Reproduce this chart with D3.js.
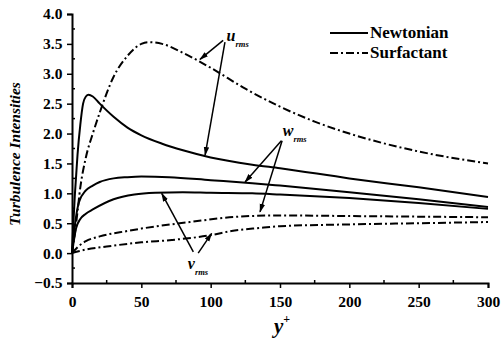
<!DOCTYPE html>
<html>
<head>
<meta charset="utf-8">
<script src="https://cdn.jsdelivr.net/npm/d3@7"></script>
<style>
  body { margin: 0; background: #fff; }
  svg { display: block; }
  svg text { font-family: "Liberation Serif", "Times New Roman", serif !important; font-weight: bold; fill: #000; }
</style>
</head>
<body>
<div id="chart"></div>
<script>
// y+ positions and intensities
const newtU = [[0,0],[1,0.5],[2,0.95],[3,1.3],[4,1.65],[6,2.15],[8,2.5],[10,2.62],[12,2.65],[15,2.62],[20,2.5],[30,2.28],[40,2.1],[50,1.97],[65,1.83],[80,1.72],[100,1.6],[130,1.48],[150,1.42],[200,1.25],[250,1.1],[300,0.94]];
const newtW = [[0,0],[2,0.45],[5,0.85],[10,1.05],[15,1.13],[20,1.19],[30,1.25],[40,1.27],[50,1.28],[70,1.27],[100,1.22],[130,1.17],[150,1.13],[200,1.02],[250,0.9],[300,0.77]];
const newtV = [[0,0],[3,0.42],[6,0.57],[10,0.66],[15,0.73],[30,0.9],[45,0.98],[60,1.01],[80,1.02],[100,1.01],[130,1.0],[150,0.98],[200,0.92],[250,0.84],[300,0.74]];
const surfU = [[0,0],[3,0.5],[6,1.1],[10,1.6],[15,2.0],[20,2.35],[30,2.95],[40,3.3],[50,3.5],[55,3.53],[65,3.5],[80,3.35],[100,3.1],[125,2.75],[150,2.45],[175,2.2],[200,2.0],[250,1.7],[300,1.5]];
const surfW = [[0,0],[5,0.12],[10,0.2],[20,0.28],[40,0.37],[50,0.41],[85,0.52],[120,0.61],[150,0.63],[200,0.62],[250,0.61],[300,0.6]];
const surfV = [[0,0],[10,0.06],[25,0.11],[50,0.18],[72,0.22],[100,0.3],[115,0.37],[135,0.42],[150,0.45],[200,0.48],[250,0.5],[300,0.52]];

const xTicks = [0, 50, 100, 150, 200, 250, 300];
const yTicks = [-0.5, 0, 0.5, 1, 1.5, 2, 2.5, 3, 3.5, 4];
const legendLabels = ["Newtonian", "Surfactant"];

// annotation arrows, [from, to] in data units
const uArrows = [[[109, 3.56], [92.3, 3.24]], [[110.3, 3.53], [96, 1.64]]];
const wArrows = [[[151, 1.88], [124.8, 1.19]], [[151.5, 1.88], [135.6, 0.69]]];
const vArrows = [[[87.5, 0.02], [64.7, 1.0]], [[91, 0.0], [100.7, 0.33]]];

const W = 502, H = 338;
const svg = d3.select('#chart').append('svg').attr('width', W).attr('height', H);

const x = d3.scaleLinear().domain([0, 300]).range([72, 488]);
const y = d3.scaleLinear().domain([-0.5, 4]).range([283, 14]);

const dashDot = '8,3,2,3';

// axes
const xAxis = svg.append('g').attr('transform', `translate(0,${y(-0.5)})`)
  .call(d3.axisBottom(x).tickValues(xTicks).tickSize(5).tickFormat(d3.format('d')));
const yAxis = svg.append('g').attr('transform', `translate(${x(0)},0)`)
  .call(d3.axisLeft(y).tickValues(yTicks).tickSize(5).tickFormat(d => d.toFixed(1)));

[xAxis, yAxis].forEach(g => {
  g.attr('font-family', '"Liberation Serif", serif').attr('font-size', 15.5).attr('font-weight', 'bold');
  g.select('.domain').attr('stroke', '#000').attr('stroke-width', 2);
  g.selectAll('.tick line').attr('stroke', '#000').attr('stroke-width', 1.5);
  g.selectAll('.tick text').attr('fill', '#000');
});
xAxis.selectAll('.tick text').attr('dy', '1.05em');
yAxis.selectAll('.tick text').attr('dx', '-0.1em').text(d => d < 0 ? '\u22120.5' : d.toFixed(1));

// minor ticks pointing inward
svg.append('g').selectAll('line').data(d3.range(25, 300, 50)).join('line')
  .attr('x1', d => x(d)).attr('x2', d => x(d))
  .attr('y1', y(-0.5)).attr('y2', y(-0.5) - 3)
  .attr('stroke', '#000').attr('stroke-width', 1.5);
svg.append('g').selectAll('line').data(d3.range(-0.25, 4, 0.5)).join('line')
  .attr('x1', x(0)).attr('x2', x(0) + 3)
  .attr('y1', d => y(d)).attr('y2', d => y(d))
  .attr('stroke', '#000').attr('stroke-width', 1.5);

// axis titles
svg.append('text')
  .attr('transform', `translate(20,154) rotate(-90)`)
  .attr('text-anchor', 'middle')
  .attr('font-size', 15.5).attr('font-style', 'italic')
  .text('Turbulence Intensities');

const xl = svg.append('text').attr('x', x(150) - 6).attr('y', 333)
  .attr('font-size', 21).attr('font-style', 'italic');
xl.append('tspan').text('y');
xl.append('tspan').attr('dy', -10).attr('font-size', 12).attr('font-style', 'normal').text('+');

// curves
const line = d3.line().x(d => x(d[0])).y(d => y(d[1])).curve(d3.curveMonotoneX);
const series = [
  { data: newtU, dash: null }, { data: newtW, dash: null }, { data: newtV, dash: null },
  { data: surfU, dash: dashDot }, { data: surfW, dash: dashDot }, { data: surfV, dash: dashDot }
];
svg.append('g').selectAll('path').data(series).join('path')
  .attr('d', d => line(d.data))
  .attr('fill', 'none').attr('stroke', '#000').attr('stroke-width', 2)
  .attr('stroke-dasharray', d => d.dash);

// arrows
svg.append('defs').append('marker')
  .attr('id', 'ah').attr('viewBox', '0 0 10 10').attr('refX', 9).attr('refY', 5)
  .attr('markerWidth', 6).attr('markerHeight', 6).attr('orient', 'auto')
  .append('path').attr('d', 'M0,2 L10,5 L0,8 Z').attr('fill', '#000');

svg.append('g').selectAll('line').data([...uArrows, ...wArrows, ...vArrows]).join('line')
  .attr('x1', d => x(d[0][0])).attr('y1', d => y(d[0][1]))
  .attr('x2', d => x(d[1][0])).attr('y2', d => y(d[1][1]))
  .attr('stroke', '#000').attr('stroke-width', 1.5)
  .attr('marker-end', 'url(#ah)');

function label(px, py, main) {
  const t = svg.append('text').attr('x', px).attr('y', py)
    .attr('font-size', 16).attr('font-style', 'italic');
  t.append('tspan').text(main);
  t.append('tspan').attr('dy', 6).attr('font-size', 8.5).text('rms');
}
label(x(111.5), y(3.55), 'u');
label(x(152), y(1.96), 'w');
label(x(83.5), y(-0.27), 'v');

// legend
const leg = svg.append('g');
legendLabels.forEach((name, i) => {
  const ly = 33 + i * 20;
  leg.append('line').attr('x1', 330).attr('x2', 368).attr('y1', ly).attr('y2', ly)
    .attr('stroke', '#000').attr('stroke-width', 2)
    .attr('stroke-dasharray', i === 0 ? null : dashDot);
  leg.append('text').attr('x', 370).attr('y', ly + 5).attr('font-size', 17).text(name);
});
</script>
</body>
</html>
